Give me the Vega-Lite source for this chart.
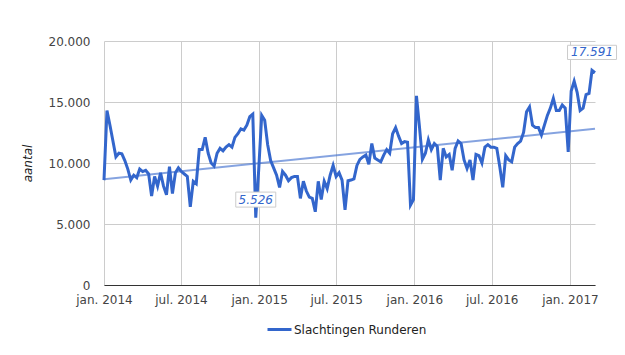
{
  "$schema": "https://vega.github.io/schema/vega-lite/v6.json",
  "width": 491,
  "height": 244,
  "autosize": "none",
  "padding": {"left": 104, "top": 41, "right": 30, "bottom": 70},
  "background": "white",
  "data": {
    "format": {"parse": {"date": "date"}},
    "values": [
      {"date": "2014/01/01", "value": 8600}, {"date": "2014/01/08", "value": 14300}, {"date": "2014/01/15", "value": 13100}, {"date": "2014/01/22", "value": 11800}, {"date": "2014/01/29", "value": 10500},
      {"date": "2014/02/05", "value": 10800}, {"date": "2014/02/12", "value": 10750}, {"date": "2014/02/19", "value": 10200}, {"date": "2014/02/26", "value": 9500},
      {"date": "2014/03/05", "value": 8600}, {"date": "2014/03/12", "value": 9000}, {"date": "2014/03/19", "value": 8800}, {"date": "2014/03/26", "value": 9500},
      {"date": "2014/04/02", "value": 9300}, {"date": "2014/04/09", "value": 9400}, {"date": "2014/04/16", "value": 9100}, {"date": "2014/04/23", "value": 7300}, {"date": "2014/04/30", "value": 8900},
      {"date": "2014/05/07", "value": 8100}, {"date": "2014/05/14", "value": 9200}, {"date": "2014/05/21", "value": 8100}, {"date": "2014/05/28", "value": 7400},
      {"date": "2014/06/04", "value": 9700}, {"date": "2014/06/11", "value": 7500}, {"date": "2014/06/18", "value": 9200}, {"date": "2014/06/25", "value": 9600},
      {"date": "2014/07/02", "value": 9300}, {"date": "2014/07/09", "value": 9100}, {"date": "2014/07/16", "value": 8900}, {"date": "2014/07/23", "value": 6400}, {"date": "2014/07/30", "value": 8500},
      {"date": "2014/08/06", "value": 8300}, {"date": "2014/08/13", "value": 11100}, {"date": "2014/08/20", "value": 11100}, {"date": "2014/08/27", "value": 12100},
      {"date": "2014/09/03", "value": 10800}, {"date": "2014/09/10", "value": 10000}, {"date": "2014/09/17", "value": 9750}, {"date": "2014/09/24", "value": 10800},
      {"date": "2014/10/01", "value": 11200}, {"date": "2014/10/08", "value": 11000}, {"date": "2014/10/15", "value": 11300}, {"date": "2014/10/22", "value": 11500}, {"date": "2014/10/29", "value": 11300},
      {"date": "2014/11/05", "value": 12100}, {"date": "2014/11/12", "value": 12400}, {"date": "2014/11/19", "value": 12800}, {"date": "2014/11/26", "value": 12700},
      {"date": "2014/12/03", "value": 13100}, {"date": "2014/12/10", "value": 13800}, {"date": "2014/12/17", "value": 14000}, {"date": "2014/12/24", "value": 5526}, {"date": "2014/12/31", "value": 9500},
      {"date": "2015/01/07", "value": 13900}, {"date": "2015/01/14", "value": 13500}, {"date": "2015/01/21", "value": 11500}, {"date": "2015/01/28", "value": 10200},
      {"date": "2015/02/04", "value": 9600}, {"date": "2015/02/11", "value": 9000}, {"date": "2015/02/18", "value": 8000}, {"date": "2015/02/25", "value": 9300},
      {"date": "2015/03/04", "value": 9000}, {"date": "2015/03/11", "value": 8550}, {"date": "2015/03/18", "value": 8800}, {"date": "2015/03/25", "value": 8900},
      {"date": "2015/04/01", "value": 8900}, {"date": "2015/04/08", "value": 7100}, {"date": "2015/04/15", "value": 8500}, {"date": "2015/04/22", "value": 7700}, {"date": "2015/04/29", "value": 7200},
      {"date": "2015/05/06", "value": 7100}, {"date": "2015/05/13", "value": 6000}, {"date": "2015/05/20", "value": 8500}, {"date": "2015/05/27", "value": 7000},
      {"date": "2015/06/03", "value": 8500}, {"date": "2015/06/10", "value": 7900}, {"date": "2015/06/17", "value": 9000}, {"date": "2015/06/24", "value": 9800},
      {"date": "2015/07/01", "value": 8900}, {"date": "2015/07/08", "value": 9200}, {"date": "2015/07/15", "value": 8600}, {"date": "2015/07/22", "value": 6150}, {"date": "2015/07/29", "value": 8550},
      {"date": "2015/08/05", "value": 8600}, {"date": "2015/08/12", "value": 8700}, {"date": "2015/08/19", "value": 9800}, {"date": "2015/08/26", "value": 10300},
      {"date": "2015/09/02", "value": 10500}, {"date": "2015/09/09", "value": 10650}, {"date": "2015/09/16", "value": 9900}, {"date": "2015/09/23", "value": 11600}, {"date": "2015/09/30", "value": 10400},
      {"date": "2015/10/07", "value": 10250}, {"date": "2015/10/14", "value": 10100}, {"date": "2015/10/21", "value": 10650}, {"date": "2015/10/28", "value": 11100},
      {"date": "2015/11/04", "value": 10800}, {"date": "2015/11/11", "value": 12400}, {"date": "2015/11/18", "value": 12900}, {"date": "2015/11/25", "value": 12200},
      {"date": "2015/12/02", "value": 11600}, {"date": "2015/12/09", "value": 11750}, {"date": "2015/12/16", "value": 11700}, {"date": "2015/12/23", "value": 6550}, {"date": "2015/12/30", "value": 7000},
      {"date": "2016/01/06", "value": 15500}, {"date": "2016/01/13", "value": 13000}, {"date": "2016/01/20", "value": 10300}, {"date": "2016/01/27", "value": 10800},
      {"date": "2016/02/03", "value": 11900}, {"date": "2016/02/10", "value": 11100}, {"date": "2016/02/17", "value": 11600}, {"date": "2016/02/24", "value": 11350},
      {"date": "2016/03/02", "value": 8600}, {"date": "2016/03/09", "value": 11200}, {"date": "2016/03/16", "value": 10500}, {"date": "2016/03/23", "value": 10700}, {"date": "2016/03/30", "value": 9400},
      {"date": "2016/04/06", "value": 11200}, {"date": "2016/04/13", "value": 11800}, {"date": "2016/04/20", "value": 11600}, {"date": "2016/04/27", "value": 10250},
      {"date": "2016/05/04", "value": 9550}, {"date": "2016/05/11", "value": 10250}, {"date": "2016/05/18", "value": 8600}, {"date": "2016/05/25", "value": 10700},
      {"date": "2016/06/01", "value": 10600}, {"date": "2016/06/08", "value": 10000}, {"date": "2016/06/15", "value": 11300}, {"date": "2016/06/22", "value": 11500}, {"date": "2016/06/29", "value": 11300},
      {"date": "2016/07/06", "value": 11300}, {"date": "2016/07/13", "value": 11200}, {"date": "2016/07/20", "value": 9700}, {"date": "2016/07/27", "value": 8000},
      {"date": "2016/08/03", "value": 10600}, {"date": "2016/08/10", "value": 10250}, {"date": "2016/08/17", "value": 10100}, {"date": "2016/08/24", "value": 11300}, {"date": "2016/08/31", "value": 11600},
      {"date": "2016/09/07", "value": 11800}, {"date": "2016/09/14", "value": 12500}, {"date": "2016/09/21", "value": 14200}, {"date": "2016/09/28", "value": 14600},
      {"date": "2016/10/05", "value": 13100}, {"date": "2016/10/12", "value": 12900}, {"date": "2016/10/19", "value": 12900}, {"date": "2016/10/26", "value": 12300},
      {"date": "2016/11/02", "value": 13100}, {"date": "2016/11/09", "value": 13900}, {"date": "2016/11/16", "value": 14500}, {"date": "2016/11/23", "value": 15300}, {"date": "2016/11/30", "value": 14300},
      {"date": "2016/12/07", "value": 14300}, {"date": "2016/12/14", "value": 14750}, {"date": "2016/12/21", "value": 14500}, {"date": "2016/12/28", "value": 10900},
      {"date": "2017/01/04", "value": 15900}, {"date": "2017/01/11", "value": 16700}, {"date": "2017/01/18", "value": 15800}, {"date": "2017/01/25", "value": 14300},
      {"date": "2017/02/01", "value": 14500}, {"date": "2017/02/08", "value": 15600}, {"date": "2017/02/15", "value": 15700}, {"date": "2017/02/22", "value": 17591},
      {"date": "2017/03/01", "value": 17400}
    ]
  },
  "encoding": {
    "x": {
      "field": "date",
      "type": "temporal",
      "scale": {"domain": [{"year": 2014, "month": 1, "date": 1}, {"year": 2017, "month": 3, "date": 1}], "nice": false},
      "axis": {
        "title": null,
        "values": [
          {"year": 2014, "month": 1, "date": 1}, {"year": 2014, "month": 7, "date": 1},
          {"year": 2015, "month": 1, "date": 1}, {"year": 2015, "month": 7, "date": 1},
          {"year": 2016, "month": 1, "date": 1}, {"year": 2016, "month": 7, "date": 1},
          {"year": 2017, "month": 1, "date": 1}
        ],
        "labelExpr": "(month(datum.value) == 0 ? 'jan. ' : 'jul. ') + year(datum.value)",
        "grid": true,
        "gridColor": "#cccccc",
        "ticks": false,
        "domain": true,
        "domainColor": "#333333",
        "labelPadding": 9,
        "labelFontSize": 12,
        "labelColor": "#444444",
        "labelFont": "DejaVu Sans",
        "labelFlush": false,
        "labelOverlap": false
      }
    },
    "y": {
      "field": "value",
      "type": "quantitative",
      "scale": {"domain": [0, 20000], "nice": false},
      "axis": {
        "title": "aantal",
        "titleFontStyle": "italic",
        "titleFontWeight": "normal",
        "titleFontSize": 12,
        "titleFont": "DejaVu Sans",
        "titleColor": "#222222",
        "titleX": -77,
        "titleY": 122,
        "titleAngle": -90,
        "titleAlign": "center",
        "titleBaseline": "middle",
        "values": [0, 5000, 10000, 15000, 20000],
        "format": ",d",
        "grid": true,
        "gridColor": "#cccccc",
        "ticks": false,
        "domain": false,
        "labelPadding": 14,
        "labelFontSize": 12,
        "labelColor": "#444444",
        "labelFont": "DejaVu Sans"
      }
    }
  },
  "layer": [
    {
      "mark": {"type": "line", "strokeWidth": 3, "interpolate": "linear"},
      "encoding": {
        "color": {
          "datum": "Slachtingen Runderen",
          "type": "nominal",
          "scale": {"range": ["#3366cc"]},
          "legend": {
            "title": null,
            "orient": "none",
            "legendX": 162,
            "legendY": 275,
            "symbolType": "stroke",
            "symbolStrokeWidth": 3,
            "symbolSize": 576,
            "labelFontSize": 12,
            "labelFont": "DejaVu Sans",
            "labelColor": "#222222",
            "labelOffset": 1
          }
        }
      }
    },
    {
      "transform": [{"regression": "value", "on": "date"}],
      "mark": {"type": "line", "strokeWidth": 2, "color": "#3366cc", "opacity": 0.6},
      "encoding": {}
    },
    {
      "transform": [{"filter": "datum.value == 5526"}],
      "mark": {"type": "point", "shape": "M-1,-0.375H1V0.375H-1Z", "size": 1600, "filled": true, "fill": "white", "stroke": "#cccccc", "strokeWidth": 1, "opacity": 1, "yOffset": -18},
      "encoding": {}
    },
    {
      "transform": [{"filter": "datum.value == 17591"}],
      "mark": {"type": "point", "shape": "M-1,-0.29H1V0.29H-1Z", "size": 2401, "filled": true, "fill": "white", "stroke": "#cccccc", "strokeWidth": 1, "opacity": 1, "yOffset": -18},
      "encoding": {}
    },
    {
      "transform": [{"filter": "datum.value == 5526 || datum.value == 17591"}],
      "mark": {"type": "text", "font": "DejaVu Sans", "fontSize": 12, "fontStyle": "italic", "color": "#3366cc", "dy": -18, "align": "center", "baseline": "middle"},
      "encoding": {"text": {"field": "value", "type": "quantitative", "format": ",d"}}
    }
  ],
  "config": {
    "view": {"stroke": null},
    "font": "DejaVu Sans",
    "locale": {
      "number": {"decimal": ",", "thousands": ".", "grouping": [3], "currency": ["€", ""]}
    }
  }
}
